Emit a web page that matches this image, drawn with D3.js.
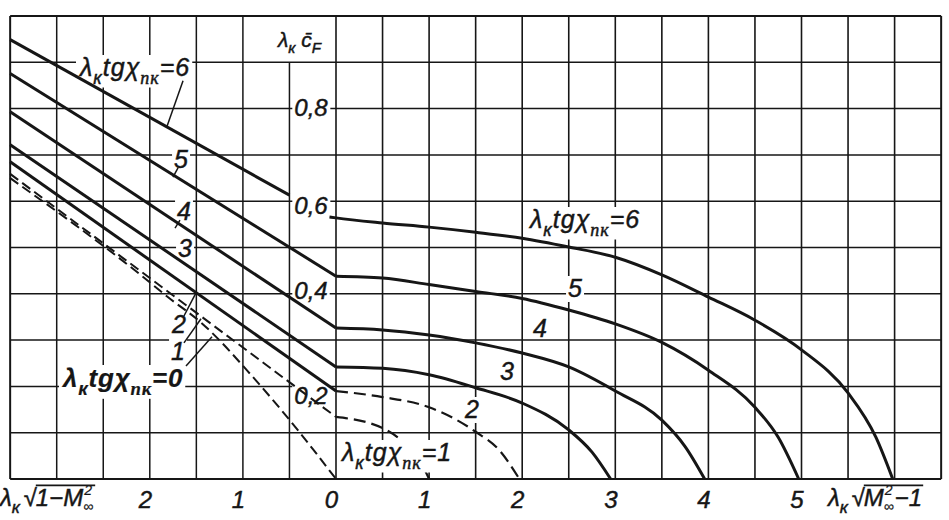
<!DOCTYPE html>
<html><head><meta charset="utf-8">
<script src="https://cdn.jsdelivr.net/npm/d3@7"></script>
<style>body{margin:0;background:#fff}svg{display:block}</style>
</head><body>
<svg id="chart" width="949" height="520"></svg>
<script>
// ---------------- data ----------------
// left half: abscissa λк√(1−M∞²) (subsonic), right half: λк√(M∞²−1) (supersonic)
const subTickValues = [2, 1, 0];
const supTickValues = [1, 2, 3, 4, 5];
const yTickValues = [0.2, 0.4, 0.6, 0.8];
const yTickLabels = ["0,2", "0,4", "0,6", "0,8"];

// subsonic lines, [λк√(1−M∞²), λк c̄F]
const sub6 = [[3.5, 0.949], [0.5, 0.613]];
const sub5 = [[3.5, 0.876], [0, 0.438]];
const sub4 = [[3.5, 0.793], [0, 0.326]];
const sub3 = [[3.5, 0.722], [0, 0.242]];
const sub2 = [[3.5, 0.685], [0, 0.190]];
const sub1 = [[3.5, 0.659], [0, 0.134]];
const sub0 = [[3.5, 0.650], [2.1, 0.441], [1.8, 0.392], [1.45, 0.338], [0.9, 0.222], [0.4, 0.103], [0, 0]];

// supersonic curves, [λк√(M∞²−1), λк c̄F]
const sup6 = [[-0.07, 0.566], [0, 0.564], [0.5, 0.553], [1, 0.544], [1.5, 0.533], [2, 0.520], [2.5, 0.501], [3, 0.479], [3.5, 0.441], [4, 0.393], [4.5, 0.343], [5, 0.279], [5.5, 0.186], [5.8, 0.090], [5.98, 0]];
const sup5 = [[0, 0.438], [0.5, 0.434], [1, 0.420], [1.5, 0.405], [2, 0.390], [2.5, 0.365], [3, 0.335], [3.5, 0.295], [4, 0.235], [4.5, 0.155], [4.75, 0.090], [4.97, 0]];
const sup4 = [[0, 0.326], [0.5, 0.322], [1, 0.311], [1.5, 0.294], [2, 0.272], [2.5, 0.242], [3, 0.190], [3.5, 0.127], [3.75, 0.070], [3.96, 0]];
const sup3 = [[0, 0.242], [0.5, 0.239], [1, 0.225], [1.5, 0.197], [2, 0.164], [2.5, 0.106], [2.75, 0.058], [2.95, 0]];
const sup2 = [[0, 0.190], [0.5, 0.177], [1, 0.155], [1.5, 0.102], [1.75, 0.063], [1.97, 0]];
const sup1 = [[0, 0.134], [0.5, 0.110], [0.7, 0.084], [0.9, 0.040], [1.0, 0]];

// ---------------- layout ----------------
const FONT = "'Liberation Sans', Arial, sans-serif";
const SERIF = "'Liberation Serif', 'DejaVu Serif', serif";
const INK = "#161616";
const svg = d3.select("#chart");

const X0 = 336, UNIT = 93.1;
const xSub = d3.scaleLinear().domain([0, 3.5]).range([X0, X0 - 3.5 * UNIT]);
const xSup = d3.scaleLinear().domain([0, 6.5]).range([X0, X0 + 6.5 * UNIT]);
const y = d3.scaleLinear().domain([0, 1]).range([479, 16]);

const gGrid = svg.append("g");
const gBg = svg.append("g");
const gCurves = svg.append("g");
const gCover = svg.append("g");
const gText = svg.append("g");

// grid
const gridY = d3.range(0, 1.0001, 0.1);
const gridSub = d3.range(0.5, 3.5001, 0.5);
const gridSup = d3.range(0, 6.5001, 0.5);
gGrid.selectAll("line.h").data(gridY).join("line")
  .attr("x1", xSub(3.5)).attr("x2", xSup(6.5))
  .attr("y1", d => y(d)).attr("y2", d => y(d))
  .attr("stroke", INK).attr("stroke-width", (d, i) => (i === 0 || i === gridY.length - 1) ? 2 : 1.5);
gGrid.selectAll("line.vs").data(gridSub).join("line")
  .attr("x1", d => xSub(d)).attr("x2", d => xSub(d))
  .attr("y1", y(0)).attr("y2", d => Math.abs(d - 0.5) < 1e-6 ? y(0.9) : y(1))
  .attr("stroke", INK).attr("stroke-width", d => d > 3.4 ? 2 : 1.5);
gGrid.selectAll("line.vp").data(gridSup).join("line")
  .attr("x1", d => xSup(d)).attr("x2", d => xSup(d))
  .attr("y1", y(0)).attr("y2", y(1))
  .attr("stroke", INK).attr("stroke-width", d => d > 6.4 ? 2 : 1.6);

// curves
const lineSub = d3.line().x(d => xSub(d[0])).y(d => y(d[1]));
const lineSubCurve = d3.line().x(d => xSub(d[0])).y(d => y(d[1])).curve(d3.curveMonotoneX);
const lineSup = d3.line().x(d => xSup(d[0])).y(d => y(d[1])).curve(d3.curveMonotoneX);

const solid = {w: 3, dash: null};
const dashL = {w: 2, dash: "10 5"};
const dashR = {w: 2.2, dash: "12 6"};
function draw(gen, data, st) {
  gCurves.append("path").attr("d", gen(data)).attr("fill", "none")
    .attr("stroke", INK).attr("stroke-width", st.w)
    .attr("stroke-dasharray", st.dash).attr("stroke-linejoin", "round");
}
[sub6, sub5, sub4, sub3, sub2].forEach(d => draw(lineSub, d, solid));
draw(lineSub, sub1, dashL);
draw(lineSubCurve, sub0, dashL);
[sup6, sup5, sup4, sup3].forEach(d => draw(lineSup, d, solid));
draw(lineSup, sup2, dashR);
draw(lineSup, sup1, dashR);

// leader lines (data coordinates of the left half)
const leaders = [
  [[1.643, 0.860], [1.815, 0.762]],
  [[1.697, 0.672], [1.751, 0.652]],
  [[1.676, 0.559], [1.729, 0.542]],
  [[1.633, 0.352], [1.504, 0.402]],
  [[1.633, 0.294], [1.450, 0.346]],
  [[1.611, 0.244], [1.332, 0.307]]
];
leaders.forEach(l => gCurves.append("path").attr("d", lineSub(l))
  .attr("stroke", INK).attr("stroke-width", 1.5).attr("fill", "none"));

// ---------------- text helpers ----------------
function label(x, yy, parts, opt = {}) {
  const size = opt.size || 25;
  const t = gText.append("text").attr("x", x).attr("y", yy)
    .attr("font-family", FONT).attr("font-style", "italic")
    .attr("font-weight", opt.weight || "normal")
    .attr("font-size", size).attr("fill", INK)
    .attr("stroke", INK).attr("stroke-width", opt.thin ? 0.2 : 0.45)
    .attr("letter-spacing", opt.spacing || 0)
    .attr("text-anchor", opt.anchor || "start");
  let shift = 0;
  parts.forEach(p => {
    const ts = t.append("tspan").text(p.t);
    const target = p.sub ? size * 0.3 : 0;
    ts.attr("dy", target - shift); shift = target;
    if (p.sub) ts.attr("font-size", size * 0.72);
    if (p.serif) ts.attr("font-family", SERIF);
  });
  if (opt.bg) {
    const b = t.node().getBBox();
    (opt.cover ? gCover : gBg).append("rect")
      .attr("x", b.x - 2).attr("y", b.y + 2).attr("width", b.width + 4).attr("height", b.height - 2)
      .attr("fill", "#fff");
  }
  return t;
}
const lam = [{t: "λ"}, {t: "к", sub: true}];
const tgLabel = v => [...lam, {t: "tgχ"}, {t: "пк", sub: true, serif: true}, {t: "=" + v}];

// curve labels
label(80, 76, tgLabel(6), {bg: true, spacing: 1});
label(181, 168, [{t: "5"}], {anchor: "middle", bg: true});
label(184, 220, [{t: "4"}], {anchor: "middle", bg: true});
label(185, 257, [{t: "3"}], {anchor: "middle", bg: true});
label(179, 333, [{t: "2"}], {anchor: "middle", bg: true});
label(178, 360, [{t: "1"}], {anchor: "middle", bg: true});
label(63, 387, tgLabel(0), {bg: true, weight: "bold", thin: true, size: 26, spacing: 0.8});

label(530, 228, tgLabel(6), {bg: true, spacing: 1});
label(575, 297, [{t: "5"}], {anchor: "middle", bg: true});
label(540, 337, [{t: "4"}], {anchor: "middle"});
label(507, 380, [{t: "3"}], {anchor: "middle"});
label(472, 418, [{t: "2"}], {anchor: "middle", bg: true});
label(342, 461, tgLabel(1), {bg: true, cover: true, spacing: 1});

// y tick labels
const yLabelNudge = [9, -3, 4, -1];
yTickValues.forEach((v, i) => {
  label(311, y(v) + yLabelNudge[i] + 8.5, [{t: yTickLabels[i]}], {anchor: "middle", bg: true, size: 24});
});

// y title
label(278, 47, [...lam, {t: " c\u0304"}, {t: "F", sub: true}], {size: 21});

// x axes
function styleAxis(g) {
  g.select(".domain").remove();
  g.selectAll("line").remove();
  g.selectAll("text").attr("font-family", FONT).attr("font-style", "italic")
    .attr("font-size", 24).attr("fill", INK).attr("stroke", INK).attr("stroke-width", 0.45)
    .attr("dx", -5);
}
svg.append("g").attr("transform", `translate(0,${y(0)})`)
  .call(d3.axisBottom(xSub).tickValues(subTickValues).tickFormat(d3.format("d")).tickSize(0).tickPadding(12))
  .call(styleAxis);
svg.append("g").attr("transform", `translate(0,${y(0)})`)
  .call(d3.axisBottom(xSup).tickValues(supTickValues).tickFormat(d3.format("d")).tickSize(0).tickPadding(12))
  .call(styleAxis);

// axis titles with radical
function sqrtTitle(x, base, radicand) {
  const size = 24;
  let cx = x;
  const t1 = label(cx, base, lam, {size});
  cx += t1.node().getBBox().width + 1;
  const rt = label(cx, base, [{t: "√"}], {size});
  cx += rt.node().getBBox().width - 2;
  const start = cx;
  radicand.forEach(p => {
    if (p.stack) {
      const a = label(cx + 1, base - 11, [{t: p.stack[0]}], {size: 14, thin: true});
      const b = label(cx, base + 5, [{t: p.stack[1]}], {size: 14, thin: true});
      cx += Math.max(a.node().getBBox().width, b.node().getBBox().width) + 1;
    } else {
      const t = label(cx, base, [{t: p.t}], {size});
      cx += t.node().getBBox().width;
    }
  });
  gText.append("line").attr("x1", start).attr("x2", cx + 1)
    .attr("y1", base - size * 0.86).attr("y2", base - size * 0.86)
    .attr("stroke", INK).attr("stroke-width", 1.8);
}
sqrtTitle(0, 506, [{t: "1−M"}, {stack: ["2", "∞"]}]);
sqrtTitle(828, 506, [{t: "M"}, {stack: ["2", "∞"]}, {t: "−1"}]);
</script>
</body></html>
